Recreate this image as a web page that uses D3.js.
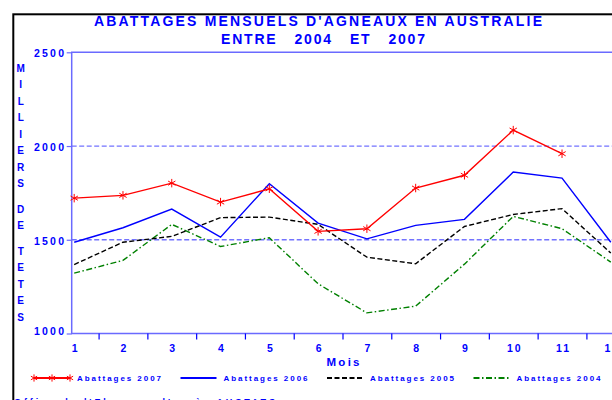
<!DOCTYPE html>
<html>
<head>
<meta charset="utf-8">
<script src="https://cdn.jsdelivr.net/npm/d3@7"></script>
<style>
  body { margin: 0; background: #fff; }
  svg { display: block; font-family: "Liberation Sans", Arial, sans-serif; font-weight: bold; }
</style>
</head>
<body>
<div id="chart"></div>
<script>
// monthly lamb slaughter, thousands of head
const months = [1, 2, 3, 4, 5, 6, 7, 8, 9, 10, 11, 12];
const abattages2007 = [1722, 1737, 1802, 1701, 1772, 1545, 1559, 1776, 1844, 2085, 1959];
const abattages2006 = [1487, 1564, 1664, 1514, 1799, 1589, 1505, 1577, 1609, 1861, 1829, 1487];
const abattages2005 = [1368, 1487, 1518, 1618, 1621, 1582, 1407, 1372, 1571, 1635, 1666, 1429];
const abattages2004 = [1322, 1390, 1582, 1464, 1511, 1265, 1110, 1146, 1370, 1625, 1559, 1381];
const yTicks = [1000, 1500, 2000, 2500];
const gridValues = [1500, 2000];
const yLabel = ["M", "I", "L", "L", "I", "E", "R", "S", "", "D", "E", "", "T", "E", "T", "E", "S"];
const legendLabels = ["Abattages 2007", "Abattages 2006", "Abattages 2005", "Abattages 2004"];

const W = 612, H = 400;
const BLUE = "#0000ff";
const AXIS = "#6a6aff";

const svg = d3.select("#chart").append("svg")
  .attr("width", W)
  .attr("height", H);

// outer black frame (runs off the right / bottom edge)
svg.append("rect")
  .attr("x", 13.3).attr("y", 14.3)
  .attr("width", 700).attr("height", 500)
  .attr("fill", "none")
  .attr("stroke", "#000")
  .attr("stroke-width", 2);

const plotLeft = 71.7, plotTop = 52.3, plotBottom = 333.5;

const x = d3.scaleLinear().domain([1, 12]).range([74.2, 610.8]);
const y = d3.scaleLinear().domain([1000, 2500]).range([plotBottom, plotTop]);

// titles
svg.append("text")
  .attr("x", 94).attr("y", 26)
  .attr("textLength", 448).attr("lengthAdjust", "spacing")
  .attr("font-size", 14).attr("fill", BLUE)
  .text("ABATTAGES MENSUELS D'AGNEAUX EN AUSTRALIE");

svg.append("text")
  .attr("x", 221).attr("y", 44.3)
  .attr("textLength", 204).attr("lengthAdjust", "spacing")
  .attr("font-size", 14).attr("fill", BLUE)
  .style("white-space", "pre")
  .text("ENTRE   2004   ET   2007");

// grid lines
svg.selectAll(".grid")
  .data(gridValues)
  .join("line")
  .attr("class", "grid")
  .attr("x1", plotLeft).attr("x2", W + 20)
  .attr("y1", d => y(d)).attr("y2", d => y(d))
  .attr("stroke", "#7373ff")
  .attr("stroke-width", 1.3)
  .attr("stroke-dasharray", "5,2.5");

// plot frame
svg.append("path")
  .attr("d", `M${W + 20},${plotTop}H${plotLeft}V${plotBottom}H${W + 20}`)
  .attr("fill", "none")
  .attr("stroke", AXIS)
  .attr("stroke-width", 1.5);

// y axis
const yAxis = svg.append("g")
  .attr("transform", `translate(${plotLeft},0)`)
  .call(d3.axisLeft(y).tickValues(yTicks).tickSize(5).tickPadding(2).tickFormat(d3.format("d")));
yAxis.select(".domain").remove();
yAxis.selectAll("line").attr("stroke", AXIS).attr("stroke-width", 1.2);
yAxis.selectAll("text")
  .attr("fill", BLUE)
  .attr("font-size", 10.5)
  .attr("font-family", "Liberation Sans, Arial, sans-serif")
  .attr("font-weight", "bold")
  .attr("letter-spacing", 2.2)
  .attr("x", -5.5)
  .attr("dy", (d, i) => d === 1000 ? "0.1em" : "0.42em");

// x axis: month labels
const xAxis = svg.append("g")
  .attr("transform", `translate(0,${plotBottom})`)
  .call(d3.axisBottom(x).tickValues(months).tickSize(0).tickPadding(11));
xAxis.select(".domain").remove();
xAxis.selectAll("text")
  .attr("fill", BLUE)
  .attr("font-size", 10.5)
  .attr("font-family", "Liberation Sans, Arial, sans-serif")
  .attr("font-weight", "bold")
  .attr("letter-spacing", 2)
  .attr("dx", 1);

// x axis: small ticks between months
const mids = months.slice(0, -1).map(m => m + 0.5);
const xMinor = svg.append("g")
  .attr("transform", `translate(0,${plotBottom})`)
  .call(d3.axisBottom(x).tickValues(mids).tickSize(6).tickFormat(""));
xMinor.select(".domain").remove();
xMinor.selectAll("line").attr("stroke", BLUE).attr("stroke-width", 1.2);

svg.append("text")
  .attr("x", 326.5).attr("y", 366)
  .attr("textLength", 33).attr("lengthAdjust", "spacing")
  .attr("font-size", 11.5).attr("fill", BLUE)
  .text("Mois");

// vertical y label
let ly = 68;
yLabel.forEach(ch => {
  if (ch === "") { ly += 9; return; }
  svg.append("text")
    .attr("x", 20.7).attr("y", ly)
    .attr("dy", "0.35em")
    .attr("text-anchor", "middle")
    .attr("font-size", 10)
    .attr("fill", BLUE)
    .text(ch);
  ly += 16.5;
});

// series
const line = d3.line().x((d, i) => x(months[i])).y(d => y(d));

const series = [
  { values: abattages2007, color: "#ff0000", dash: null, width: 1.4 },
  { values: abattages2006, color: "#0000ff", dash: null, width: 1.4 },
  { values: abattages2005, color: "#000000", dash: "5,2.5", width: 1.4 },
  { values: abattages2004, color: "#008000", dash: "6,2.5,1.5,2.5", width: 1.4 }
];

const gLines = svg.append("g");

series.slice().reverse().forEach(s => {
  gLines.append("path")
    .datum(s.values)
    .attr("d", line)
    .attr("fill", "none")
    .attr("stroke", s.color)
    .attr("stroke-width", s.width)
    .attr("stroke-dasharray", s.dash);
});

const star = d3.symbol().type(d3.symbolAsterisk).size(50);
gLines.selectAll(".star")
  .data(abattages2007)
  .join("path")
  .attr("class", "star")
  .attr("d", star)
  .attr("transform", (d, i) => `translate(${x(months[i])},${y(d)})`)
  .attr("fill", "none")
  .attr("stroke", "#ff0000")
  .attr("stroke-width", 1);

// legend
const legendY = 378;
const legend = svg.append("g");
legendLabels.forEach((lab, i) => {
  const x0 = 34 + i * 146.5;
  const s = series[i];
  legend.append("line")
    .attr("x1", x0).attr("x2", x0 + 36)
    .attr("y1", legendY).attr("y2", legendY)
    .attr("stroke", s.color)
    .attr("stroke-width", 2)
    .attr("stroke-dasharray", s.dash);
  if (i === 0) {
    [0, 18, 36].forEach(dx => {
      legend.append("path")
        .attr("d", d3.symbol().type(d3.symbolAsterisk).size(36))
        .attr("transform", `translate(${x0 + dx},${legendY})`)
        .attr("fill", "none")
        .attr("stroke", "#ff0000")
        .attr("stroke-width", 1);
    });
  }
  legend.append("text")
    .attr("x", x0 + 43).attr("y", legendY + 3)
    .attr("textLength", 84).attr("lengthAdjust", "spacing")
    .attr("font-size", 8)
    .attr("fill", BLUE)
    .text(lab);
});

// source line, mostly cut by the bottom edge
svg.append("text")
  .attr("x", 14).attr("y", 404.5)
  .attr("textLength", 261).attr("lengthAdjust", "spacing")
  .attr("font-size", 9)
  .attr("fill", BLUE)
  .text("Office de l'Elevage, d'après AUSTATS");
</script>
</body>
</html>
